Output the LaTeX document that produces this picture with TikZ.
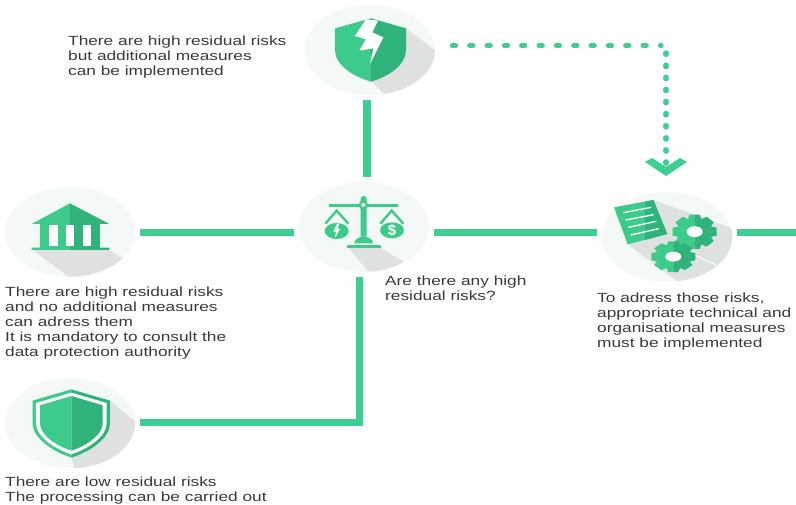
\documentclass[tikz,border=0pt]{standalone}
\usepackage{fontspec}
\setmainfont{Liberation Sans}
\newfontfamily\lblfont[FakeStretch=1.3]{Liberation Sans}
\usetikzlibrary{shapes.geometric,calc}
\definecolor{gl}{HTML}{3CCB8A}
\definecolor{gd}{HTML}{2FB37B}
\definecolor{linkc}{HTML}{3CCF93}
\definecolor{halo}{HTML}{F4F8F7}
\definecolor{shadow}{HTML}{DFE1E1}
\definecolor{ink}{HTML}{3A3A3A}
\tikzset{
 disc/.style={ellipse,fill=halo,minimum width=130pt,minimum height=90pt,inner sep=0pt},
 conn/.style={linkc,line width=6.5pt,shorten >=5pt,shorten <=5pt},
 lbl/.style={anchor=north west,align=left,inner sep=0pt,text=ink,font=\lblfont\fontsize{13.3}{15}\selectfont},
 icon/.style={scale=1/3},
}
% a cog in local coordinates: #1 colour
\newcommand{\cogteeth}[1]{%
 \fill[#1] (0,0) circle (50);
 \foreach \a in {0,45,...,315}{
  \fill[#1,rotate=\a] (-15,-66) -- (15,-66) -- (23,-40) -- (-23,-40) -- cycle;
 }%
}
\begin{document}
\begin{tikzpicture}[x=1pt,y=-1pt]
\useasboundingbox (0,0) rectangle (796,505);
\fill[white] (0,0) rectangle (796,505);
% discs
\node[disc] (top) at (370,50) {};
\node[disc] (bal) at (364,227) {};
\node[disc] (doc) at (667,237) {};
\node[disc] (bank) at (70,232) {};
\node[disc] (low) at (70,423) {};
% helpers
\coordinate (stem) at (367,140);
\coordinate (elbow) at (359.5,422);
\coordinate (rowy) at (0,232.5);
\coordinate (rightend) at (801,232.5);
\coordinate (dotstart) at (452.5,45.5);
\coordinate (dotcorner) at (661,45.5);
\coordinate (dotturn) at (666,53.5);
\coordinate (dotend) at (666,163);
% connectors
\draw[conn,line width=8pt] (top.south -| stem) -- (bal.north -| stem);
\draw[conn] (bank.east |- rowy) -- (bal.west |- rowy);
\draw[conn] (bal.east |- rowy) -- (doc.west |- rowy);
\draw[conn] (doc.east |- rowy) -- (rightend);
\draw[conn,line width=7pt,line join=miter] (bal.south -| elbow) -- (elbow) -- (low.east |- elbow);
\draw[linkc,line width=5.4pt,line cap=round,dash pattern=on 3pt off 14.33pt] (dotstart) -- (dotcorner);
\draw[linkc,line width=6.4pt,line cap=round,dash pattern=on 0.4pt off 11.7pt] (dotturn) -- (dotend);
\fill[linkc] (645,162) -- (652,158) -- (666,167) -- (680,158) -- (687,162) -- (666,176) -- cycle;
% top shield
\begin{scope}[shift={(290,0)},icon]
 \begin{scope}
  \clip (240,150) ellipse (195 and 135);
  \fill[shadow] (348,85) -- (500,200) -- (400,400) -- (245,245) -- cycle;
 \end{scope}
 \fill[gl] (243,55) -- (135,85) -- (135,150) .. controls (135,195) and (190,230) .. (243,245) -- cycle;
 \fill[gd] (243,55) -- (348,85) -- (348,150) .. controls (348,195) and (295,230) .. (243,245) -- cycle;
 \fill[white] (228,58) -- (264,62) -- (247,97) -- (280,112) -- (240,192) -- (250,145) -- (208,152) -- (228,118) -- (195,108) -- cycle;
\end{scope}
% balance
\begin{scope}[shift={(290,175)},icon]
 \begin{scope}
  \clip (222,155) ellipse (192 and 135);
  \fill[shadow] (175,218) -- (270,218) -- (345,262) -- (280,300) -- (235,290) -- cycle;
 \end{scope}
 \fill[gl] (212,72) .. controls (212,60) and (230,60) .. (230,72) -- (230,185) -- (212,185) -- cycle;
 \fill[gl] (118,86) rectangle (325,95);
 \fill[gl] (220,90) circle (14);
 \fill[white] (220,90) circle (6);
 \fill[gl] (192,205) .. controls (195,190) and (210,185) .. (221,185) .. controls (232,185) and (247,190) .. (250,205) -- cycle;
 \fill[gl] (170,209) rectangle (272,218);
 \draw[gl,line width=2.4pt] (106,146) -- (140,107) -- (175,146);
 \draw[gl,line width=2.4pt] (271,146) -- (305,107) -- (340,146);
 \fill[gl] (140,168) ellipse (36 and 24);
 \fill[gl] (306,166) ellipse (36 and 24);
 \fill[white] (141,146) -- (148,146) -- (143,160) -- (150,162) -- (135,188) -- (138,170) -- (130,170) -- cycle;
 \node[text=white,inner sep=0pt,font=\fontsize{15}{15}\bfseries\selectfont] (dollar) at (306,166) {\$};
\end{scope}
% docs
\begin{scope}[shift={(590,150)},icon]
 \begin{scope}
  \clip (232,260) ellipse (195 and 135);
  \fill[shadow] (190,150) -- (440,240) -- (440,400) -- (270,400) -- (112,282) -- cycle;
  \draw[white,line width=1pt] (300,308) -- (378,345);
 \end{scope}
 \fill[gl] (72,172) -- (190,150) -- (232,252) -- (113,283) -- cycle;
 \fill[gd] (165,155) -- (190,150) -- (232,252) -- (165,270) -- cycle;
 \draw[white,line width=1.3pt] (100,188) -- (184,172);
 \draw[white,line width=1.3pt] (107,210) -- (191,194);
 \draw[white,line width=1.3pt] (115,232) -- (199,214);
 \draw[white,line width=1.3pt] (122,255) -- (206,236);
 \begin{scope}[shift={(314,245)},yscale=.78]
  \begin{scope}\clip (-70,-70) rectangle (0,70);\cogteeth{gl}\end{scope}
  \begin{scope}\clip (0,-70) rectangle (70,70);\cogteeth{gd}\end{scope}
  \fill[white] (0,0) ellipse (24 and 21);
 \end{scope}
 \begin{scope}[shift={(250,320)},yscale=.70]
  \begin{scope}\clip (-70,-70) rectangle (0,70);\cogteeth{gl}\end{scope}
  \begin{scope}\clip (0,-70) rectangle (70,70);\cogteeth{gd}\end{scope}
  \fill[white] (0,0) ellipse (24 and 21);
 \end{scope}
\end{scope}
% bank
\begin{scope}[shift={(0,180)},icon]
 \begin{scope}
  \clip (210,155) ellipse (195 and 135);
  \fill[shadow] (98,210) -- (328,210) -- (420,270) -- (300,320) -- (220,300) -- cycle;
 \end{scope}
 \fill[gl] (95,132) -- (210,70) -- (210,210) -- (95,210) -- (95,203) -- (120,203) -- (120,132) -- cycle;
 \fill[gd] (328,132) -- (210,70) -- (210,210) -- (328,210) -- (328,203) -- (300,203) -- (300,132) -- cycle;
 \fill[white] (148,135) rectangle (173,198);
 \fill[white] (198,135) rectangle (222,198);
 \fill[white] (248,135) rectangle (273,198);
\end{scope}
% lower shield
\begin{scope}[shift={(0,370)},icon]
 \begin{scope}
  \clip (210,160) ellipse (195 and 135);
  \fill[shadow] (328,90) -- (460,200) -- (400,400) -- (250,400) -- (215,262) -- cycle;
 \end{scope}
 \fill[gl] (214,58) -- (98,92) -- (98,160) .. controls (98,205) and (160,245) .. (214,263) -- cycle;
 \fill[gd] (214,58) -- (330,92) -- (330,160) .. controls (330,205) and (270,245) .. (214,263) -- cycle;
 \fill[white] (214,68) -- (108,99) -- (108,160) .. controls (108,200) and (165,237) .. (214,253) .. controls (263,237) and (320,200) .. (320,160) -- (320,99) -- cycle;
 \fill[gl] (214,78) -- (120,106) -- (120,160) .. controls (120,195) and (170,228) .. (214,242) -- cycle;
 \fill[gd] (214,78) -- (308,106) -- (308,160) .. controls (308,195) and (258,228) .. (214,242) -- cycle;
\end{scope}
% labels
\node[lbl] (t1) at (68,36) {There are high residual risks\\but additional measures\\can be implemented};
\node[lbl] (t2) at (5,287) {There are high residual risks\\and no additional measures\\can adress them\\It is mandatory to consult the\\data protection authority};
\node[lbl] (t3) at (385,276) {Are there any high\\residual risks?};
\node[lbl] (t4) at (597,293) {To adress those risks,\\appropriate technical and\\organisational measures\\must be implemented};
\node[lbl] (t5) at (5,477) {There are low residual risks\\The processing can be carried out};
\end{tikzpicture}
\end{document}
